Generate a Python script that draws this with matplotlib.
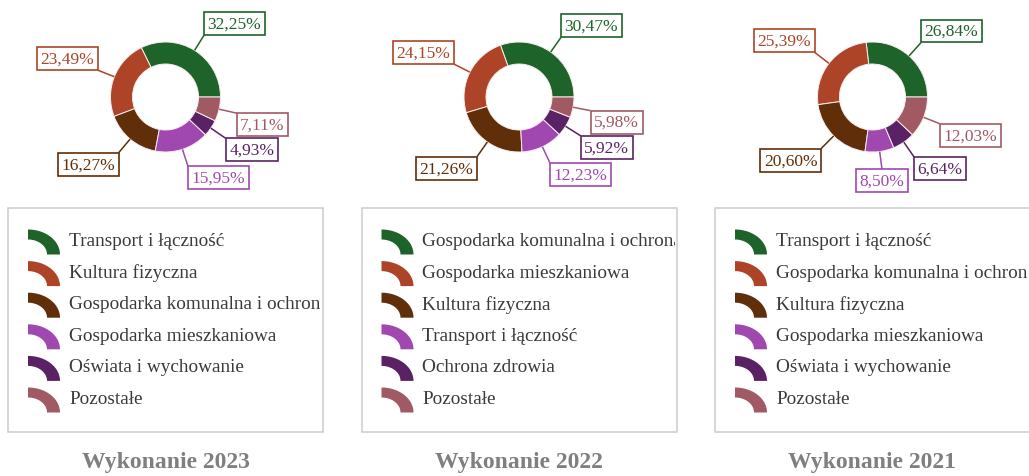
import numpy as np
import matplotlib
matplotlib.use("Agg")
import matplotlib.pyplot as plt
from matplotlib.patches import Rectangle, Polygon

plt.rcParams['font.family'] = ['Liberation Serif', 'DejaVu Serif']

# ---- data -------------------------------------------------------------
colors = ['#1e6329', '#ad4427', '#602e08', '#a048b0', '#5a2264', '#a15a63']

titles = ['Wykonanie 2023', 'Wykonanie 2022', 'Wykonanie 2021']

cats_2023 = ['Transport i łączność', 'Kultura fizyczna',
             'Gospodarka komunalna i ochrona środowiska',
             'Gospodarka mieszkaniowa', 'Oświata i wychowanie', 'Pozostałe']
vals_2023 = [32.25, 23.49, 16.27, 15.95, 4.93, 7.11]

cats_2022 = ['Gospodarka komunalna i ochrona środowiska',
             'Gospodarka mieszkaniowa', 'Kultura fizyczna',
             'Transport i łączność', 'Ochrona zdrowia', 'Pozostałe']
vals_2022 = [30.47, 24.15, 21.26, 12.23, 5.92, 5.98]

cats_2021 = ['Transport i łączność',
             'Gospodarka komunalna i ochrona środowiska', 'Kultura fizyczna',
             'Gospodarka mieszkaniowa', 'Oświata i wychowanie', 'Pozostałe']
vals_2021 = [26.84, 25.39, 20.60, 8.50, 6.64, 12.03]

panels = [(titles[0], cats_2023, vals_2023),
          (titles[1], cats_2022, vals_2022),
          (titles[2], cats_2021, vals_2021)]

# ---- layout (pixels) --------------------------------------------------
W, H, DPI = 1029, 477, 100
R_PX = 55.0            # outer donut radius
CY = 98.0              # donut centre (from top)
STEP = 353.5           # panel spacing
CX0 = 165.5
LABEL_R = 73.0 / R_PX  # where the label box touches its leader line
LBL_FS = 12.5
PAD_PX = 0.2 * LBL_FS * DPI / 72.0

fig = plt.figure(figsize=(W / DPI, H / DPI), dpi=DPI)
fig.patch.set_facecolor('white')

# overlay axes in pixel units for legends and titles
ov = fig.add_axes([0, 0, 1, 1])
ov.set_xlim(0, W)
ov.set_ylim(H, 0)
ov.axis('off')


def fmt(v):
    return f'{v:.2f}'.replace('.', ',') + '%'


for i, (title, cats, vals) in enumerate(panels):
    cx = CX0 + i * STEP

    # ---- donut ----
    hw, hh = 160.0, 100.0
    ax = fig.add_axes([(cx - hw) / W, 1 - (CY + hh) / H, 2 * hw / W, 2 * hh / H])
    wedges, _ = ax.pie(vals, colors=colors, startangle=0, counterclock=True,
                       radius=1.0,
                       wedgeprops=dict(width=0.4, edgecolor='#f4eeee',
                                       linewidth=0.7))
    ax.set_xlim(-hw / R_PX, hw / R_PX)
    ax.set_ylim(-hh / R_PX, hh / R_PX)
    ax.set_aspect('auto')
    ax.axis('off')

    for w, v, c in zip(wedges, vals, colors):
        th = np.deg2rad(0.5 * (w.theta1 + w.theta2))
        ux, uy = np.cos(th), np.sin(th)
        ax.plot([ux, ux * LABEL_R], [uy, uy * LABEL_R], color=c, lw=1.1,
                solid_capstyle='butt', clip_on=False)
        if abs(ux) < 0.2:
            ha, ox = 'center', 0.0
        elif ux > 0:
            ha, ox = 'left', PAD_PX
        else:
            ha, ox = 'right', -PAD_PX
        if abs(uy) < 0.1:
            va, oy = 'center', 0.0
        elif uy > 0:
            va, oy = 'bottom', PAD_PX
        else:
            va, oy = 'top', -PAD_PX
        ax.annotate(fmt(v), xy=(ux * LABEL_R, uy * LABEL_R), xytext=(ox, oy),
                    textcoords='offset pixels', ha=ha, va=va,
                    fontsize=LBL_FS, color=c, annotation_clip=False,
                    bbox=dict(boxstyle='square,pad=0.2', fc='white', ec=c,
                              lw=1.2))

    # ---- legend box ----
    bx, by, bw, bh = cx - 157.5, 209.0, 315.0, 224.0
    ov.add_patch(Rectangle((bx, by), bw, bh, fc='white', ec='#cccccc',
                           lw=1.1))
    clip = Rectangle((bx, by), bw - 2, bh, transform=ov.transData)
    for k, (name, c) in enumerate(zip(cats, colors)):
        yr = 241.5 + k * 31.6
        ex, ey = bx + 20, yr + 14
        t = np.linspace(np.pi / 2, 0, 40)
        outer = np.column_stack([ex + 32 * np.cos(t), ey - 25 * np.sin(t)])
        inner = np.column_stack([ex + 19 * np.cos(t[::-1]),
                                 ey - 15 * np.sin(t[::-1])])
        ov.add_patch(Polygon(np.vstack([outer, inner]), closed=True, fc=c,
                             ec='none'))
        txt = ov.text(bx + 61, yr, name, ha='left', va='center',
                      fontsize=13.9, color='#3a3a3a', clip_on=True)
        txt.set_clip_path(clip)

    # ---- title ----
    ov.text(cx, 463, title, ha='center', va='center', fontsize=17,
            fontweight='bold', color='#7f7f7f')

fig.savefig('out.png', dpi=DPI, facecolor='white')
